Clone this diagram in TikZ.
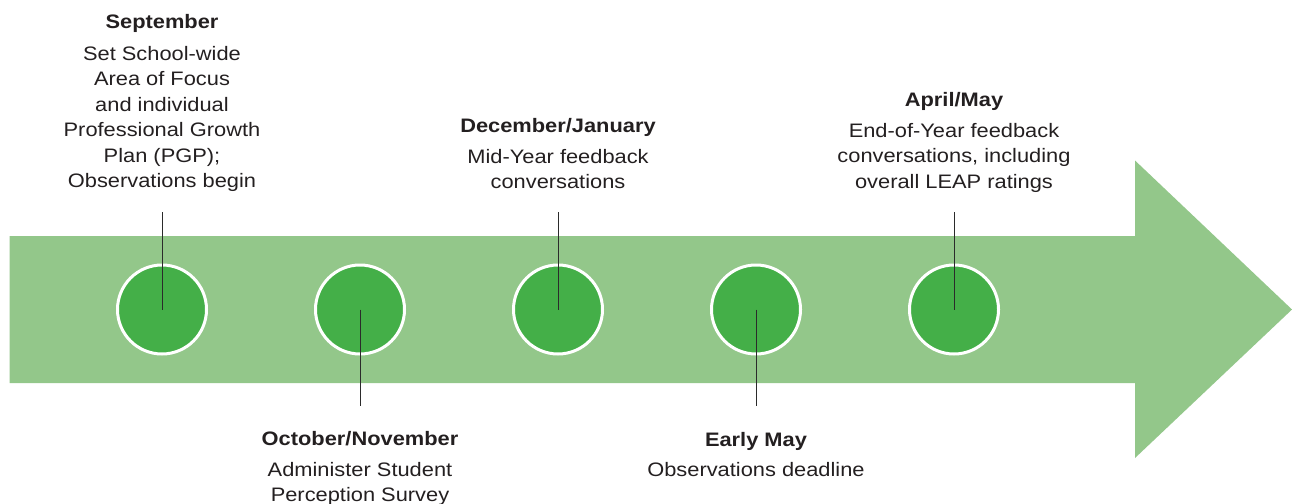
\documentclass[tikz,border=0pt]{standalone}
\usepackage{fontspec}
\setmainfont{Liberation Sans}[FakeStretch=1.12]
\definecolor{arrowgreen}{HTML}{93C78A}
\definecolor{dotgreen}{HTML}{44AF48}
\definecolor{ink}{HTML}{231F20}
\definecolor{leader}{HTML}{2B2B2B}
\begin{document}
\begin{tikzpicture}[x=1pt,y=-1pt,
  dot/.style={circle,fill=dotgreen,draw=white,line width=3pt,minimum size=89pt,inner sep=0pt},
  title/.style={anchor=base,inner sep=0pt,text=ink,font=\fontsize{19.5}{25.5}\selectfont\bfseries},
  body/.style={anchor=base,inner sep=0pt,text=ink,align=center,font=\fontsize{19.5}{25.5}\selectfont},
  leaderline/.style={draw=leader,line width=1pt}]
\useasboundingbox (0,0) rectangle (1292,503);
% arrow
\fill[arrowgreen] (9.5,236) -- (1135,236) -- (1135,160.5) -- (1292,309.5) -- (1135,458) -- (1135,383) -- (9.5,383) -- cycle;
% circles
\node[dot] (c1) at (162,309.5) {};
\node[dot] (c2) at (360,309.5) {};
\node[dot] (c3) at (558,309.5) {};
\node[dot] (c4) at (756,309.5) {};
\node[dot] (c5) at (954,309.5) {};
% leader ends
\coordinate (e1) at (162,212);
\coordinate (e2) at (360,406);
\coordinate (e3) at (558,212);
\coordinate (e4) at (756,406);
\coordinate (e5) at (954,212);
\draw[leaderline] (e1) -- (c1.center);
\draw[leaderline] (c2.center) -- (e2);
\draw[leaderline] (e3) -- (c3.center);
\draw[leaderline] (c4.center) -- (e4);
\draw[leaderline] (e5) -- (c5.center);
% labels (body nodes: base = baseline of last line)
\node[title] (h1) at (162,29) {September};
\node[body] (b1) at (162,187.5) {Set School-wide\\Area of Focus\\and individual\\Professional Growth\\Plan (PGP);\\Observations begin};
\node[title] (h3) at (558,132) {December/January};
\node[body] (b3) at (558,188.5) {Mid-Year feedback\\conversations};
\node[title] (h5) at (954,106) {April/May};
\node[body] (b5) at (954,188) {End-of-Year feedback\\conversations, including\\overall LEAP ratings};
\node[title] (h2) at (360,445) {October/November};
\node[body] (b2) at (360,501.5) {Administer Student\\Perception Survey};
\node[title] (h4) at (756,446) {Early May};
\node[body] (b4) at (756,476) {Observations deadline};
\end{tikzpicture}
\end{document}
